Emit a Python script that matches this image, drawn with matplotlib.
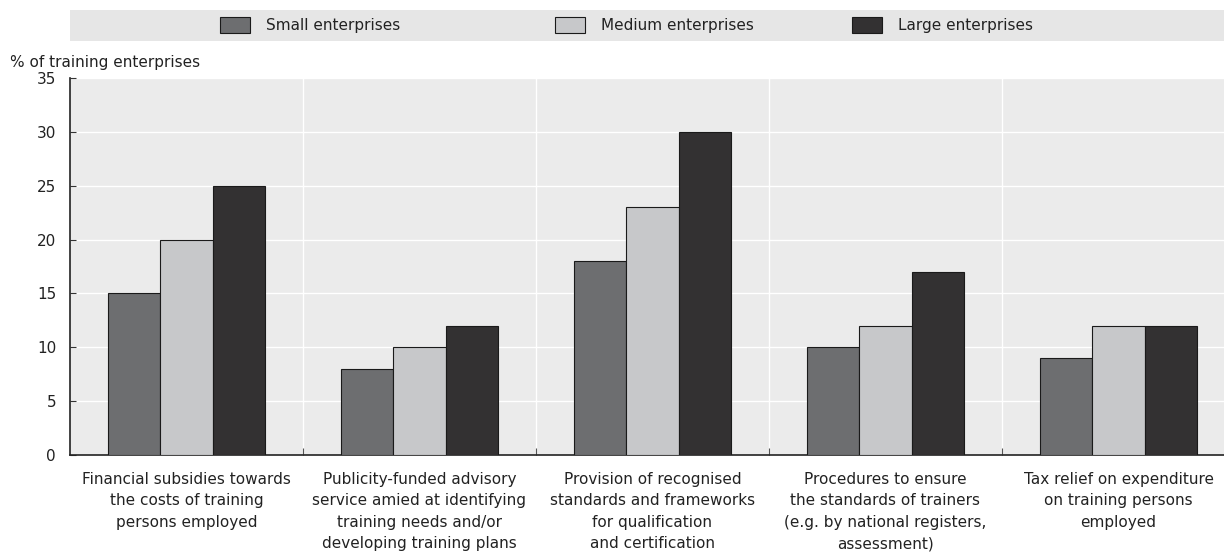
import matplotlib
matplotlib.use("Agg")
import matplotlib.pyplot as plt
from matplotlib.patches import Rectangle
from matplotlib import font_manager
import numpy as np

categories = [
    "Financial subsidies towards\nthe costs of training\npersons employed",
    "Publicity-funded advisory\nservice amied at identifying\ntraining needs and/or\ndeveloping training plans",
    "Provision of recognised\nstandards and frameworks\nfor qualification\nand certification",
    "Procedures to ensure\nthe standards of trainers\n(e.g. by national registers,\nassessment)",
    "Tax relief on expenditure\non training persons\nemployed",
]
series_names = ["Small enterprises", "Medium enterprises", "Large enterprises"]
small = [15, 8, 18, 10, 9]
medium = [20, 10, 23, 12, 12]
large = [25, 12, 30, 17, 12]
y_ticks = [0, 5, 10, 15, 20, 25, 30, 35]

colors = ["#6d6e70", "#c7c8ca", "#333132"]

names = {f.name for f in font_manager.fontManager.ttflist}
family = "Liberation Sans Narrow" if "Liberation Sans Narrow" in names else "DejaVu Sans"
plt.rcParams["font.family"] = [family, "DejaVu Sans"]
plt.rcParams["font.size"] = 11
text_color = "#222222"
fs = 11

W, H = 1224, 555
fig = plt.figure(figsize=(W / 100, H / 100), dpi=100)

# plot area in pixel terms
left, right, top, bottom = 70, 1235, 78, 455
ax = fig.add_axes([left / W, 1 - bottom / H, (right - left) / W, (bottom - top) / H])
ax.set_facecolor("#ebebeb")

x = np.arange(len(categories))
bw = 0.225
for i, (vals, c) in enumerate(zip([small, medium, large], colors)):
    ax.bar(x + (i - 1) * bw, vals, width=bw, color=c, edgecolor="#1a1a1a",
           linewidth=0.8, zorder=3, label=series_names[i])

ax.set_xlim(-0.5, len(categories) - 0.5)
ax.set_ylim(0, 35)
ax.set_yticks(y_ticks)
ax.set_xticks(x)
ax.set_xticklabels(categories, fontsize=fs, color=text_color, linespacing=1.55)
ax.tick_params(axis="x", length=0, pad=12)
ax.tick_params(axis="y", direction="in", length=4, width=0.8, color="#333333",
               labelsize=fs, labelcolor=text_color, pad=10)

# separators between groups
bounds = np.arange(0.5, len(categories) - 0.5, 1.0)
ax.set_xticks(bounds, minor=True)
ax.tick_params(axis="x", which="minor", direction="in", length=5, width=0.8, color="#555555")
ax.grid(axis="y", color="white", linewidth=1.0, zorder=0)
ax.grid(axis="x", which="minor", color="white", linewidth=1.0, zorder=0)
ax.grid(axis="x", which="major", visible=False)
ax.set_axisbelow(True)

for s in ["top", "right"]:
    ax.spines[s].set_visible(False)
for s in ["left", "bottom"]:
    ax.spines[s].set_color("#222222")
    ax.spines[s].set_linewidth(1.2)

fig.text(10 / W, 1 - 62 / H, "% of training enterprises", fontsize=fs,
         color=text_color, va="center", ha="left")

# legend band
fig.patches.append(Rectangle((70 / W, 1 - 41 / H), (W - 70) / W, 31 / H,
                             transform=fig.transFigure, facecolor="#e6e6e6",
                             edgecolor="none", zorder=0))
patch_x = [220, 555, 852]
for px, name, c in zip(patch_x, series_names, colors):
    fig.patches.append(Rectangle((px / W, 1 - 33 / H), 30 / W, 16 / H,
                                 transform=fig.transFigure, facecolor=c,
                                 edgecolor="#1a1a1a", linewidth=0.8, zorder=2))
    fig.text((px + 46) / W, 1 - 25.5 / H, name, fontsize=fs, color=text_color,
             va="center", ha="left")

fig.savefig("out.png", dpi=100)
